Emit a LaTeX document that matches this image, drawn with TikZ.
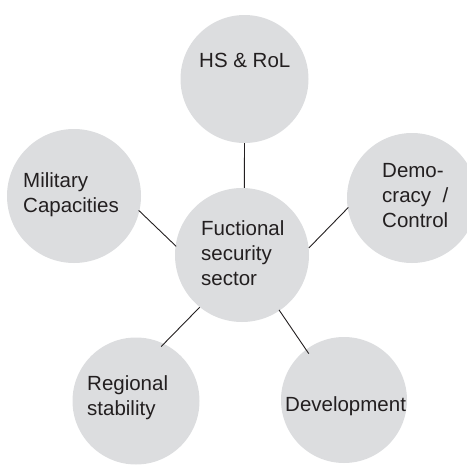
\documentclass[tikz,border=0pt]{standalone}
\usepackage{fontspec}
\setmainfont{Liberation Sans}
\definecolor{bubblegray}{HTML}{DCDDDF}
\definecolor{textdark}{HTML}{231F20}
\definecolor{linedark}{HTML}{231F20}
\begin{document}
\begin{tikzpicture}[x=1pt,y=-1pt,
  bubble/.style={circle, fill=bubblegray, draw=none, inner sep=0pt, minimum size=#1},
  % the base anchor of a multi-line label sits on its last line
  txt/.style={anchor=base west, inner sep=0pt, text=textdark, align=left,
    font=\fontsize{20.5}{24.8}\selectfont},
  link/.style={draw=linedark, line width=0.9pt}]
  \useasboundingbox (0,0) rectangle (467,466);
  \clip (0,0) rectangle (467,466);

  % bubbles
  \node[bubble=128pt] (top) at (244.5,79) {};
  \node[bubble=134pt] (mil) at (74,196) {};
  \node[bubble=130pt] (dem) at (412,198) {};
  \node[bubble=134pt] (ctr) at (242,255) {};
  \node[bubble=127pt] (reg) at (136,401) {};
  \node[bubble=126pt] (dev) at (344,400) {};

  % connectors from the centre to each outer bubble
  \draw[link] (top.south) -- (ctr.88);
  \draw[link, shorten <=-1pt, shorten >=-1pt] (mil.-13) -- (ctr.172);
  \draw[link, shorten <=-1pt] (dem.189) -- (ctr.6);
  \draw[link, shorten >=-4pt] (ctr.231) -- (reg.64);
  \draw[link, shorten <=-1pt, shorten >=-5pt] (ctr.-56) -- (dev.127);

  % labels
  \node[txt] (ttop) at (199,67) {HS \& RoL};
  \node[txt] (tmil) at (23,212) {Military\\Capacities};
  \node[txt] (tdem) at (382,227) {Demo-\\cracy\ \ /\\Control};
  \node[txt] (tctr) at (201,285) {Fuctional\\security\\sector};
  \node[txt] (treg) at (87,415) {Regional\\stability};
  \node[txt] (tdev) at (285,411) {Development};
\end{tikzpicture}
\end{document}
